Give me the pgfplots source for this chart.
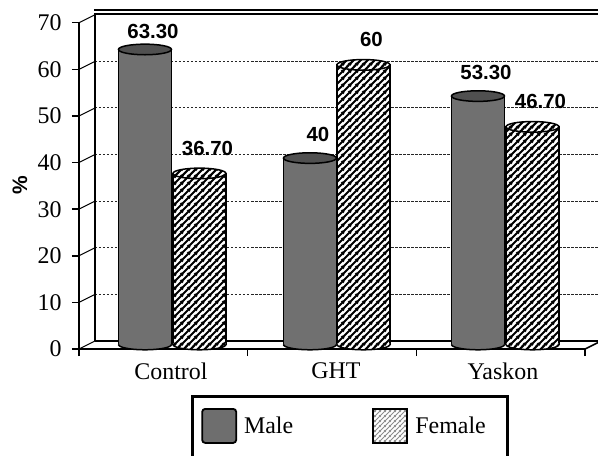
\documentclass[border=0pt]{standalone}
\usepackage{fontspec}
\setmainfont{Liberation Serif}
\newfontfamily\arialfont{Liberation Sans}
\usepackage{pgfplots}
\pgfplotsset{compat=1.18}
\usetikzlibrary{patterns}

\definecolor{malegray}{RGB}{112,112,112}
\definecolor{capgray}{RGB}{80,80,80}
\definecolor{legmale}{RGB}{110,110,110}

\pgfdeclarepatternformonly{hatch}{\pgfpointorigin}{\pgfqpoint{7bp}{7bp}}{\pgfqpoint{7bp}{7bp}}{%
  \pgfsetlinewidth{2.4bp}%
  \pgfpathmoveto{\pgfqpoint{-1bp}{-1bp}}\pgfpathlineto{\pgfqpoint{8bp}{8bp}}%
  \pgfpathmoveto{\pgfqpoint{-1bp}{6bp}}\pgfpathlineto{\pgfqpoint{1bp}{8bp}}%
  \pgfpathmoveto{\pgfqpoint{6bp}{-1bp}}\pgfpathlineto{\pgfqpoint{8bp}{1bp}}%
  \pgfusepath{stroke}}
\pgfdeclarepatternformonly{hatchL}{\pgfpointorigin}{\pgfqpoint{5bp}{5bp}}{\pgfqpoint{5bp}{5bp}}{%
  \pgfsetlinewidth{1.2bp}%
  \pgfpathmoveto{\pgfqpoint{-1bp}{-1bp}}\pgfpathlineto{\pgfqpoint{6bp}{6bp}}%
  \pgfpathmoveto{\pgfqpoint{-1bp}{4bp}}\pgfpathlineto{\pgfqpoint{1bp}{6bp}}%
  \pgfpathmoveto{\pgfqpoint{4bp}{-1bp}}\pgfpathlineto{\pgfqpoint{6bp}{1bp}}%
  \pgfusepath{stroke}}

% cylinder caps and bottoms
\pgfdeclareplotmark{capM}{%
  \pgfpathellipse{\pgfpointorigin}{\pgfqpoint{26.5bp}{0bp}}{\pgfqpoint{0bp}{5.3bp}}%
  \pgfusepathqfillstroke}
\pgfdeclareplotmark{capF}{%
  \pgfpathellipse{\pgfpointorigin}{\pgfqpoint{26.5bp}{0bp}}{\pgfqpoint{0bp}{5.3bp}}%
  \pgfsetfillcolor{white}\pgfusepathqfill
  \pgfpathellipse{\pgfpointorigin}{\pgfqpoint{26.5bp}{0bp}}{\pgfqpoint{0bp}{5.3bp}}%
  \pgfsetfillpattern{hatch}{black}\pgfusepathqfillstroke}
\pgfdeclareplotmark{botM}{%
  \pgfpathmoveto{\pgfqpoint{-25.6bp}{1.3bp}}\pgfpathlineto{\pgfqpoint{-26.5bp}{0bp}}%
  \pgfpatharc{180}{360}{26.5bp and 5.3bp}%
  \pgfpathlineto{\pgfqpoint{25.6bp}{1.3bp}}\pgfpathclose
  \pgfusepathqfill
  \pgfpathmoveto{\pgfqpoint{-26.5bp}{0bp}}\pgfpatharc{180}{360}{26.5bp and 5.3bp}%
  \pgfusepathqstroke}
\pgfdeclareplotmark{botF}{%
  \pgfpathmoveto{\pgfqpoint{-25.6bp}{1.3bp}}\pgfpathlineto{\pgfqpoint{-26.5bp}{0bp}}%
  \pgfpatharc{180}{360}{26.5bp and 5.3bp}%
  \pgfpathlineto{\pgfqpoint{25.6bp}{1.3bp}}\pgfpathclose
  \pgfsetfillcolor{white}\pgfusepathqfill
  \pgfpathmoveto{\pgfqpoint{-25.6bp}{1.3bp}}\pgfpathlineto{\pgfqpoint{-26.5bp}{0bp}}%
  \pgfpatharc{180}{360}{26.5bp and 5.3bp}%
  \pgfpathlineto{\pgfqpoint{25.6bp}{1.3bp}}\pgfpathclose
  \pgfsetfillpattern{hatch}{black}\pgfusepathqfill
  \pgfpathmoveto{\pgfqpoint{-26.5bp}{0bp}}\pgfpatharc{180}{360}{26.5bp and 5.3bp}%
  \pgfusepathqstroke}

\pgfplotsset{swatch/.style={legend image code/.code={\draw[##1] (0bp,-17bp) rectangle (34bp,17bp); \path (0bp,-24bp);}},
  vlabel/.style={nodes near coords, point meta=explicit symbolic,
    every node near coord/.append style={font=\arialfont\bfseries\fontsize{20.5}{24}\selectfont, anchor=south, inner sep=0pt, xshift=8bp, yshift=#1}}}

\begin{document}
\begin{tikzpicture}
\path[use as bounding box] (-79bp,-107bp) rectangle (519bp,349bp);
\begin{axis}[
  x=168.7bp, y=4.661bp,
  xmin=0, xmax=3, ymin=0, ymax=70,
  clip=false,
  axis x line*=bottom, axis y line*=left,
  axis line style={line width=2.2bp},
  ytick={0,10,...,70},
  xtick={0,1,2,3}, xticklabels={,,,},
  extra x ticks={0.545,1.523,2.513},
  extra x tick labels={Control,GHT,Yaskon},
  extra x tick style={major tick length=0pt, tick label style={yshift=-10bp}},
  tick align=outside, major tick length=7bp,
  tick style={line width=1.5bp, black},
  tick label style={font=\fontsize{24}{28}\selectfont},
  yticklabel style={xshift=-7bp},
  /pgf/number format/assume math mode=true,
  ymajorgrids,
  major grid style={dash pattern=on 2.5bp off 1.5bp, line width=1bp, black!85, xshift=16bp, yshift=8bp},
  ylabel={\%},
  ylabel style={font=\arialfont\bfseries\fontsize{21}{24}\selectfont, at={(axis description cs:-0.1166,0.5026)}, anchor=center},
  legend columns=2,
  legend cell align=left,
  legend style={at={(axis description cs:0.2213,-0.141)}, anchor=north west, draw=black, line width=2.6bp, fill=white,
    inner xsep=9bp, inner ysep=11.5bp, font=\fontsize{24}{28}\selectfont,
    /tikz/every odd column/.style={column sep=5bp},
    /tikz/every even column/.style={column sep=77bp}},
]
% 3D frame: back wall, floor, tick connectors
\draw[line width=1.6bp] (axis cs:0,0) ++(16bp,8bp) -- ++(520bp,0bp);
\draw[line width=1.6bp] (axis cs:3,0) -- ++(16bp,8bp);
\draw[line width=2bp] (axis cs:0,0) ++(16bp,8bp) -- ++(0bp,329bp);
\draw[line width=2bp, double, double distance=1.6bp] (axis cs:0,70) ++(15bp,10.7bp) -- ++(520bp,0bp);
\pgfplotsinvokeforeach{0,10,20,30,40,50,60,70}{\draw[line width=1bp] (axis cs:0,#1) -- ++(16bp,8bp);}

% Male
\addplot[forget plot, ybar, bar width=53bp, bar shift=0pt, fill=malegray, draw=black, line width=1.5bp, yshift=4.5bp]
  coordinates {(0.391,63.3) (1.369,40) (2.365,53.3)};
\addplot[forget plot, only marks, mark=botM, mark options={fill=malegray, draw=black, line width=1.5bp}, yshift=4.5bp]
  coordinates {(0.391,0) (1.369,0) (2.365,0)};
\addplot[forget plot, only marks, mark=capM, mark options={fill=capgray, draw=black, line width=1.5bp}, yshift=4.5bp, vlabel=10bp]
  coordinates {(0.391,63.3) [63.30]};
\addplot[forget plot, only marks, mark=capM, mark options={fill=capgray, draw=black, line width=1.5bp}, yshift=4.5bp, vlabel=16bp]
  coordinates {(1.369,40) [40] (2.365,53.3) [53.30]};

% Female
\addplot[forget plot, ybar, bar width=53bp, bar shift=0pt, fill=white, draw=black, line width=1.5bp, yshift=4.5bp,
  postaction={pattern=hatch, pattern color=black}]
  coordinates {(0.714,36.7) (1.686,60) (2.688,46.7)};
\addplot[forget plot, only marks, mark=botF, mark options={draw=black, line width=1.5bp}, yshift=4.5bp]
  coordinates {(0.714,0) (1.686,0) (2.688,0)};
\addplot[forget plot, only marks, mark=capF, mark options={draw=black, line width=1.5bp}, yshift=4.5bp, vlabel=17bp]
  coordinates {(0.714,36.7) [36.70] (1.686,60) [60] (2.688,46.7) [46.70]};

\addlegendimage{swatch, fill=legmale, draw=black, line width=1.8bp, rounded corners=3bp}
\addlegendentry{Male}
\addlegendimage{swatch, fill=white, draw=black, line width=2.2bp, postaction={pattern=hatchL, pattern color=black!45}}
\addlegendentry{Female\hspace*{11bp}}
\end{axis}
\end{tikzpicture}
\end{document}
